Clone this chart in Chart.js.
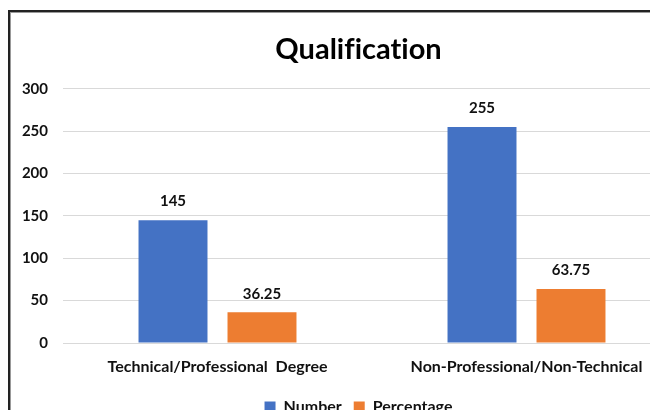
<!DOCTYPE html>
<html>
<head>
<meta charset="utf-8">
<script src="https://cdn.jsdelivr.net/npm/chart.js@4/dist/chart.umd.min.js"></script>
<style>
  html, body { margin: 0; padding: 0; background: #fff; overflow: hidden; }
  body { width: 650px; height: 410px; position: relative; }
  .frame {
    position: absolute; left: 8px; top: 10px; width: 720px; height: 430px;
    border-left: 2px solid #222; border-top: 2px solid #222;
    box-shadow: inset 1px 1px 0 #999;
  }
  .box { position: absolute; left: 10px; top: 12px; width: 697px; height: 413px; }
  canvas { font-variant-ligatures: none; font-feature-settings: "liga" 0; }
</style>
</head>
<body>
<div class="frame"></div>
<div class="box"><canvas id="qualChart"></canvas></div>
<script>
const categories = ["Technical/Professional  Degree", "Non-Professional/Non-Technical"];
const numberValues = [145, 255];
const percentValues = [36.25, 63.75];
const yTicks = [0, 50, 100, 150, 200, 250, 300];

const FONT = "Lato, 'Open Sans', sans-serif";

// value labels above each bar
const barLabels = {
  id: "barLabels",
  afterDatasetsDraw(chart) {
    const { ctx } = chart;
    ctx.save();
    ctx.font = "bold 15px " + FONT;
    ctx.fillStyle = "#111";
    ctx.textAlign = "center";
    ctx.textBaseline = "bottom";
    chart.data.datasets.forEach((ds, i) => {
      chart.getDatasetMeta(i).data.forEach((bar, j) => {
        ctx.fillText(String(ds.data[j]), bar.x, bar.y - 11);
      });
    });
    ctx.restore();
  },
};

new Chart(document.getElementById("qualChart"), {
  type: "bar",
  data: {
    labels: categories,
    datasets: [
      { label: "Number", data: numberValues, backgroundColor: "#4472C4" },
      { label: "Percentage", data: percentValues, backgroundColor: "#ED7D31" },
    ],
  },
  options: {
    responsive: true,
    maintainAspectRatio: false,
    animation: false,
    layout: { padding: 0 },
    datasets: { bar: { categoryPercentage: 0.576, barPercentage: 0.775 } },
    scales: {
      y: {
        min: 0,
        max: 300,
        afterBuildTicks: (s) => { s.ticks = yTicks.map((v) => ({ value: v })); },
        afterFit: (s) => { s.width = 53; },
        grid: { color: "#d9d9d9", drawTicks: false },
        border: { display: false },
        ticks: { color: "#111", padding: 15, font: { family: FONT, size: 15, weight: "bold" } },
      },
      // empty right margin so the title and legend stay centred on the full width
      spacer: {
        type: "linear",
        position: "right",
        afterFit: (s) => { s.width = 26; },
        grid: { display: false, drawTicks: false },
        border: { display: false },
        ticks: { display: false },
      },
      x: {
        grid: { display: false, drawTicks: false },
        border: { color: "#d9d9d9" },
        afterFit: (s) => { s.height = 44; },
        ticks: { color: "#111", padding: 14, font: { family: FONT, size: 16, weight: "bold" } },
      },
    },
    plugins: {
      title: {
        display: true,
        text: "Qualification",
        color: "#000",
        font: { family: FONT, size: 29, weight: "bold" },
        padding: { top: 20, bottom: 22 },
      },
      legend: {
        position: "bottom",
        labels: {
          color: "#111",
          boxWidth: 11,
          boxHeight: 11,
          padding: 12,
          font: { family: FONT, size: 16, weight: "bold" },
        },
      },
      tooltip: { enabled: false },
    },
  },
  plugins: [barLabels],
});
</script>
</body>
</html>
